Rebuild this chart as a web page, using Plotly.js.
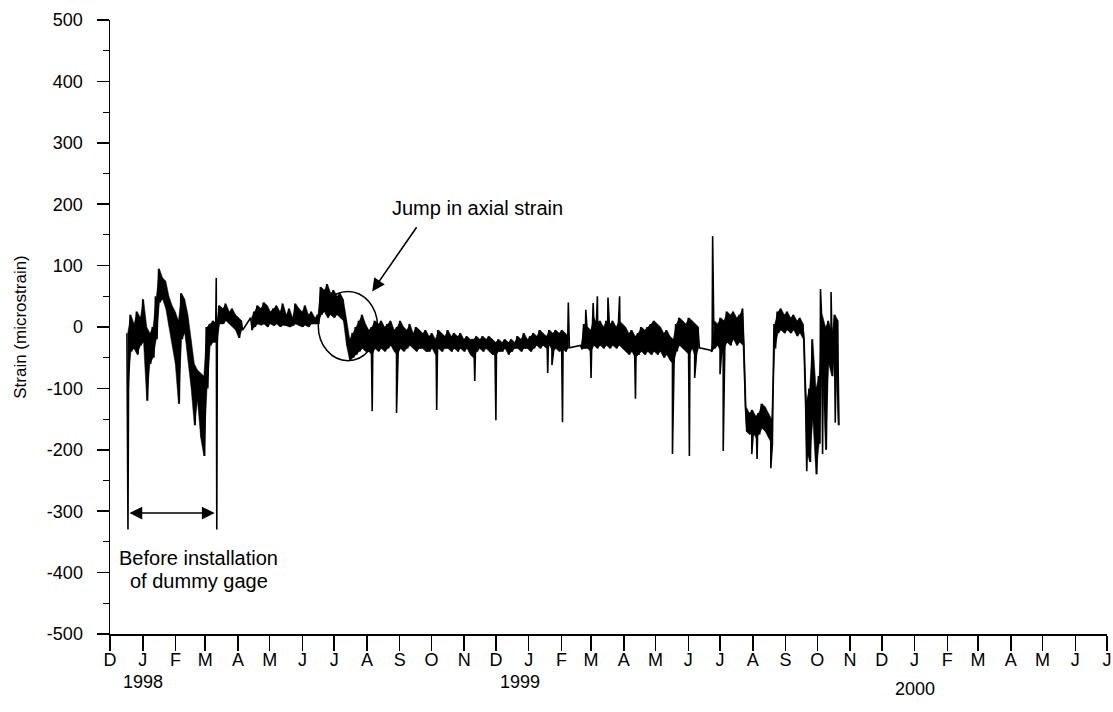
<!DOCTYPE html>
<html>
<head>
<meta charset="utf-8">
<script src="https://cdn.plot.ly/plotly-3.0.1.min.js"></script>
<style>html,body{margin:0;padding:0;background:#fff;}#chart{width:1113px;height:712px;}</style>
</head>
<body>
<div id="chart"></div>
<script>
// ---- Month ticks (x axis) ----
const tickDates = ['1997-12-01','1998-01-01','1998-02-01','1998-03-01','1998-04-01','1998-05-01','1998-06-01',
  '1998-07-01','1998-08-01','1998-09-01','1998-10-01','1998-11-01','1998-12-01','1999-01-01','1999-02-01',
  '1999-03-01','1999-04-01','1999-05-01','1999-06-01','1999-07-01','1999-08-01','1999-09-01','1999-10-01',
  '1999-11-01','1999-12-01','2000-01-01','2000-02-01','2000-03-01','2000-04-01','2000-05-01','2000-06-01','2000-07-01'];
const monthLabels = ['D','J','F','M','A','M','J','J','A','S','O','N','D','J','F','M','A','M','J','J','A','S','O','N',
  'D','J','F','M','A','M','J','J'];
const yearLabels = ['1998','1999','2000'];
const yearLabelDates = ['1998-01-01','1998-12-24','2000-01-01'];
// ---- y ticks ----
const yTickVals = [-500, -400, -300, -200, -100, 0, 100, 200, 300, 400, 500];
const yTickText = ['-500', '-400', '-300', '-200', '-100', '0', '100', '200', '300', '400', '500'];

// ---- Strain record: upper / lower edge of the noisy band, one pair every 3 days from 17 Dec 1997 ----
const sampleStart = '1997-12-17';
const sampleStepDays = 3;
const bandHigh = [
  -10, 20, 5, 25, 15, 45, 0, -10, 0, 50,
  95, 80, 75, 50, 35, 25, 10, 55, 45, 20,
  -20, -60, -70, -75, -80, 0, 5, 10, 5, 35,
  30, 38, 25, 30, 20, 15, 10, null, null, 15,
  25, 35, 30, 40, 35, 25, 30, 35, 25, 38,
  20, 30, 15, 38, 30, 25, 35, 20, 25, 15,
  20, 65, 60, 70, 55, 60, 50, 55, 45, 10,
  -20, -10, 0, 10, 20, 5, -5, 0, 10, 5,
  10, 0, 5, 10, -5, 0, 10, 0, -5, 5,
  -10, 0, -5, -10, -5, -15, -10, -20, -5, -10,
  -15, -5, -15, -10, -15, -10, -20, -15, -20, -20,
  -15, -20, -15, -20, -15, -20, -25, -20, -25, -20,
  -25, -20, -25, -15, -20, -10, -20, -15, -10, -15,
  -5, -10, -15, -5, -10, -5, -10, -5, -10, -15,
  null, null, null, -30, 5, 0, -5, 15, 5, 10,
  0, 10, 5, 10, 0, 10, 5, 0, -10, -5,
  -15, -10, 0, -5, 0, 5, 10, 5, 0, -10,
  -5, -15, -20, 5, 15, 10, 5, 15, 10, 5,
  0, null, null, null, -38, 10, 5, 15, 10, 25,
  20, 25, 15, 20, 30, -130, -140, -135, -145, -140,
  -125, -130, -140, -150, 5, 25, 30, 20, 25, 15,
  20, 10, 15, 5, -120, -100, -20, -100, -80, 20,
  0, 10, -10, 20, 10
];
const bandLow = [
  -105, -40, -35, -45, -30, -25, -120, -60, -50, -20,
  40, 45, 30, 0, -30, -60, -125, -20, -10, -50,
  -100, -160, -120, -180, -210, -100, -30, -25, -25, 5,
  5, 10, 5, 0, -5, -18, -5, null, null, -5,
  0, 5, 3, 5, 0, 5, 2, 5, 0, 3,
  2, 0, 2, 5, 2, 0, 3, 0, 5, 5,
  5, 20, 25, 15, 20, 15, 20, 15, 10, -30,
  -55, -50, -45, -40, -35, -40, -40, -45, -35, -40,
  -35, -40, -35, -30, -40, -45, -35, -40, -35, -30,
  -35, -40, -35, -35, -40, -40, -35, -45, -35, -40,
  -35, -35, -40, -35, -40, -35, -40, -35, -45, -50,
  -40, -35, -40, -35, -40, -45, -45, -40, -40, -35,
  -45, -40, -35, -35, -40, -35, -35, -40, -35, -30,
  -35, -30, -35, -30, -40, -35, -40, -35, -40, -34,
  null, null, null, -36, -35, -35, -40, -30, -35, -30,
  -35, -30, -35, -30, -35, -30, -35, -40, -45, -40,
  -50, -45, -40, -45, -40, -45, -40, -45, -40, -50,
  -45, -55, -60, -40, -30, -35, -40, -45, -35, -50,
  -34, null, null, null, -40, -35, -30, -40, -35, -25,
  -30, -20, -30, -25, -30, -170, -175, -170, -180, -175,
  -165, -170, -180, -190, -35, -10, -5, -10, -5, -10,
  -5, -15, -10, -20, -200, -220, -150, -240, -190, -60,
  -200, -60, -80, -40, -160
];
// ---- Isolated spikes ----
const spikeDates = ['1997-12-18 00:00','1998-03-11 12:00','1998-03-12 00:00','1998-08-06 00:00','1998-08-29 00:00',
  '1998-10-06 00:00','1998-11-11 00:00','1998-12-01 00:00','1999-01-19 00:00','1999-01-23 00:00','1999-02-02 00:00',
  '1999-02-07 12:00','1999-02-24 00:00','1999-03-01 00:00','1999-03-03 00:00','1999-03-07 00:00','1999-03-17 00:00',
  '1999-03-28 00:00','1999-04-12 00:00','1999-05-17 00:00','1999-06-02 00:00','1999-06-07 00:00','1999-06-24 00:00',
  '1999-07-01 00:00','1999-07-04 00:00','1999-07-31 00:00','1999-08-05 00:00','1999-08-18 00:00','1999-09-21 00:00',
  '1999-10-04 00:00','1999-10-06 00:00','1999-10-14 00:00','1999-10-18 00:00'];
const spikeValues = [-330, 80, -330, -137, -140,
  -135, -88, -152, -75, -62, -155,
  40, 28, -83, 39, 50, 48,
  50, -117, -207, -210, -83, 148,
  -77, -202, -207, -215, -230, -235,
  62, -207, 57, -156];

// ---- build the traces ----
const DAY = 86400000;
function parseUTC(s) {
  const m = s.match(/(\d+)-(\d+)-(\d+)(?:\s+(\d+):(\d+))?/);
  return Date.UTC(+m[1], +m[2] - 1, +m[3], m[4] ? +m[4] : 0, m[5] ? +m[5] : 0);
}
function fmt(t) {
  const d = new Date(t);
  const p = n => String(n).padStart(2, '0');
  return d.getUTCFullYear() + '-' + p(d.getUTCMonth() + 1) + '-' + p(d.getUTCDate()) + ' ' + p(d.getUTCHours()) + ':' + p(d.getUTCMinutes());
}
const t0 = parseUTC(sampleStart);
const sampleT = bandHigh.map((_, i) => t0 + i * sampleStepDays * DAY + 0.75 * DAY);

// filled band: one closed polygon per contiguous run of samples
const bandX = [], bandY = [];
let run = [];
function flushRun() {
  if (run.length > 1) {
    run.forEach(i => { bandX.push(fmt(sampleT[i])); bandY.push(bandHigh[i]); });
    run.slice().reverse().forEach(i => { bandX.push(fmt(sampleT[i])); bandY.push(bandLow[i]); });
    bandX.push(null); bandY.push(null);
  }
  run = [];
}
bandHigh.forEach((h, i) => { if (h === null || bandLow[i] === null) flushRun(); else run.push(i); });
flushRun();

// zig-zag record line with spikes
const pts = [];
bandHigh.forEach((h, i) => {
  const t = t0 + i * sampleStepDays * DAY;
  if (h !== null) pts.push([t, h]);
  if (bandLow[i] !== null) pts.push([t + 1.5 * DAY, bandLow[i]]);
});
spikeDates.forEach((d, k) => pts.push([parseUTC(d), spikeValues[k]]));
pts.sort((a, b) => a[0] - b[0]);

const band = {
  type: 'scatter', mode: 'lines', x: bandX, y: bandY, fill: 'toself', fillcolor: '#000',
  line: {color: '#000', width: 0.5}, hoverinfo: 'skip'
};
const record = {
  type: 'scatter', mode: 'lines',
  x: pts.map(p => fmt(p[0])), y: pts.map(p => p[1]),
  line: {color: '#000', width: 1.6},
  hoverinfo: 'skip'
};

const FONT = 'Liberation Sans, Arial, Helvetica, sans-serif';
const annotations = yearLabels.map((y, k) => ({
  text: y, x: yearLabelDates[k], xref: 'x', y: k === 2 ? -0.090 : -0.078, yref: 'paper',
  showarrow: false, xanchor: 'center', yanchor: 'middle', font: {size: 18, color: '#000'}
}));
annotations.push(
  {text: 'Jump in axial strain', x: '1998-11-14', y: 194, xref: 'x', yref: 'y', showarrow: false,
   font: {size: 20, color: '#000'}},
  {text: '', x: '1998-08-06', y: 58, ax: '1998-09-18', ay: 165, xref: 'x', yref: 'y', axref: 'x', ayref: 'y',
   showarrow: true, arrowhead: 2, arrowsize: 1.6, arrowwidth: 1.6, arrowcolor: '#000'},
  {text: '', x: '1998-03-10', y: -303, ax: '1997-12-18', ay: -303, xref: 'x', yref: 'y', axref: 'x', ayref: 'y',
   showarrow: true, arrowhead: 2, arrowside: 'end+start', arrowsize: 1.6, arrowwidth: 1.6, arrowcolor: '#000'},
  {text: 'Before installation', x: '1998-02-23', y: -376, xref: 'x', yref: 'y', showarrow: false,
   xanchor: 'center', font: {size: 20, color: '#000'}},
  {text: 'of dummy gage', x: '1998-02-23', y: -414, xref: 'x', yref: 'y', showarrow: false,
   xanchor: 'center', font: {size: 20, color: '#000'}}
);

const layout = {
  width: 1113, height: 712,
  margin: {l: 110, r: 6, t: 20, b: 78},
  paper_bgcolor: '#fff', plot_bgcolor: '#fff',
  showlegend: false,
  font: {family: FONT, size: 18, color: '#000'},
  xaxis: {
    type: 'date', range: ['1997-12-01', '2000-07-01'],
    tickmode: 'array', tickvals: tickDates, ticktext: monthLabels,
    ticks: 'outside', ticklen: 15, tickwidth: 1.5, tickcolor: '#000',
    showline: true, linewidth: 1.5, linecolor: '#000', ticklabelstandoff: -6,
    showgrid: false, zeroline: false, tickfont: {size: 18, color: '#000'}
  },
  yaxis: {
    range: [-500, 500], tickmode: 'array', tickvals: yTickVals, ticktext: yTickText,
    ticks: 'outside', ticklen: 12, tickwidth: 1.5, tickcolor: '#000',
    minor: {dtick: 50, tick0: 0, ticks: 'outside', ticklen: 6, tickwidth: 1, tickcolor: '#000', showgrid: false},
    showline: true, linewidth: 1.5, linecolor: '#000',
    showgrid: false, zeroline: false, ticklabelstandoff: 10,
    tickfont: {size: 18, color: '#000'},
    title: {text: 'Strain (microstrain)', font: {size: 17, color: '#000'}, standoff: 16}
  },
  shapes: [
    {type: 'circle', xref: 'x', yref: 'y', x0: '1998-06-16', x1: '1998-08-11', y0: -55, y1: 58,
     line: {color: '#000', width: 1.5}}
  ],
  annotations: annotations
};

Plotly.newPlot('chart', [band, record], layout, {displayModeBar: false, staticPlot: true});
</script>
</body>
</html>
